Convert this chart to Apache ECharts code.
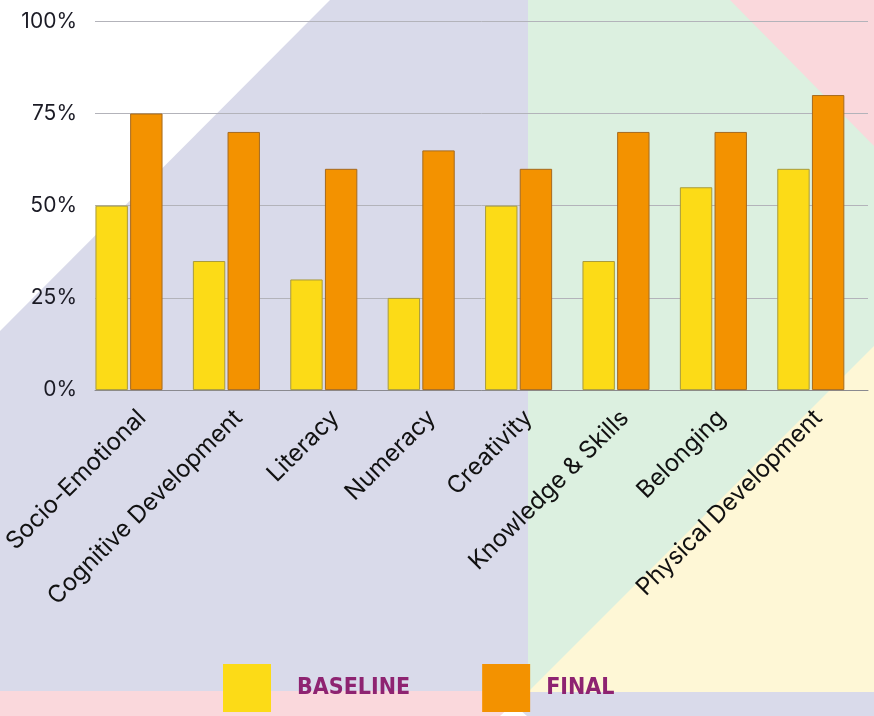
<!DOCTYPE html>
<html><head><meta charset="utf-8">
<script src="https://cdn.jsdelivr.net/npm/echarts@6/dist/echarts.min.js"></script>
<style>html,body{margin:0;padding:0;background:#d9daea}#c{width:874px;height:716px}</style>
</head><body><div id="c"></div>
<script>
const categories = ['Socio-Emotional','Cognitive Development','Literacy','Numeracy','Creativity','Knowledge & Skills','Belonging','Physical Development'];
const baselineValues = [50,35,30,25,50,35,55,60];
const finalValues = [75,70,60,65,60,70,70,80];
const seriesNames = ['BASELINE','FINAL'];

const chart = echarts.init(document.getElementById('c'), null, {renderer:'canvas'});
const bg = (pts, fill) => ({type:'polygon', z:-100, silent:true, shape:{points:pts}, style:{fill}});
const labelFont = 'Inter, "Noto Sans", sans-serif';

chart.setOption({
  backgroundColor:'#d9daea',
  animation:false,
  graphic:{elements:[
    bg([[0,0],[330,0],[0,331]], '#ffffff'),
    bg([[528,0],[874,0],[874,692],[528,692]], '#dcf0e0'),
    bg([[730,0],[874,0],[874,146]], '#fad8dc'),
    bg([[874,346],[874,692],[528,692]], '#fef7d6'),
    bg([[0,691],[505,691],[505,716],[0,716]], '#fad8dc'),
    bg([[500,716],[513,704],[527,716]], '#ffffff')
  ]},
  legend:{
    left:223, top:664, padding:0,
    itemWidth:48, itemHeight:48, itemGap:72,
    icon:'rect',
    itemStyle:{borderWidth:0},
    textStyle:{color:'#8e2371', fontSize:23, fontWeight:'bold', fontFamily:'"Liberation Sans Narrow", "DejaVu Sans Condensed", sans-serif', padding:[0,0,0,21]},
    data:[
      {name:seriesNames[0], textStyle:{padding:[0,0,0,21]}},
      {name:seriesNames[1], textStyle:{padding:[0,0,0,11]}}
    ]
  },
  grid:[
    {left:95, right:6, top:21.3, bottom:325.9, containLabel:false},
    {left:80.3, right:14.5, top:21.3, bottom:325.9, containLabel:false},
    {left:89.4, right:7.6, top:21.3, bottom:325.9, containLabel:false}
  ],
  xAxis:[
    {type:'category', gridIndex:0, data:categories,
     axisLine:{lineStyle:{color:'#8a8a90', width:1}}, axisTick:{show:false}, axisLabel:{show:false}},
    {type:'category', gridIndex:1, data:categories, show:false},
    {type:'category', gridIndex:2, data:categories,
     axisLine:{show:false}, axisTick:{show:false},
     axisLabel:{rotate:45, color:'#111', fontSize:24, fontFamily:labelFont, margin:24, interval:0}}
  ],
  yAxis:[
    {type:'value', gridIndex:0, min:0, max:100, interval:25,
     axisLine:{show:false}, axisTick:{show:false},
     axisLabel:{formatter:'{value}%', color:'#1a1a24', fontSize:21, fontFamily:labelFont, margin:18},
     splitLine:{lineStyle:{color:'#b3b3ba', width:1}}},
    {type:'value', gridIndex:1, min:0, max:100, interval:25, show:false, splitLine:{show:false}},
    {type:'value', gridIndex:2, min:0, max:100, interval:25, show:false, splitLine:{show:false}}
  ],
  series:[
    {name:seriesNames[0], type:'bar', xAxisIndex:1, yAxisIndex:1, data:baselineValues,
     barWidth:32.4, barGap:'7%',
     itemStyle:{color:'#fcdb17', borderColor:'#a99b3c', borderWidth:1}},
    {name:seriesNames[1], type:'bar', xAxisIndex:1, yAxisIndex:1, data:finalValues,
     barWidth:32.4, barGap:'7%',
     itemStyle:{color:'#f39200', borderColor:'#a56a1f', borderWidth:1}}
  ]
});
</script></body></html>
